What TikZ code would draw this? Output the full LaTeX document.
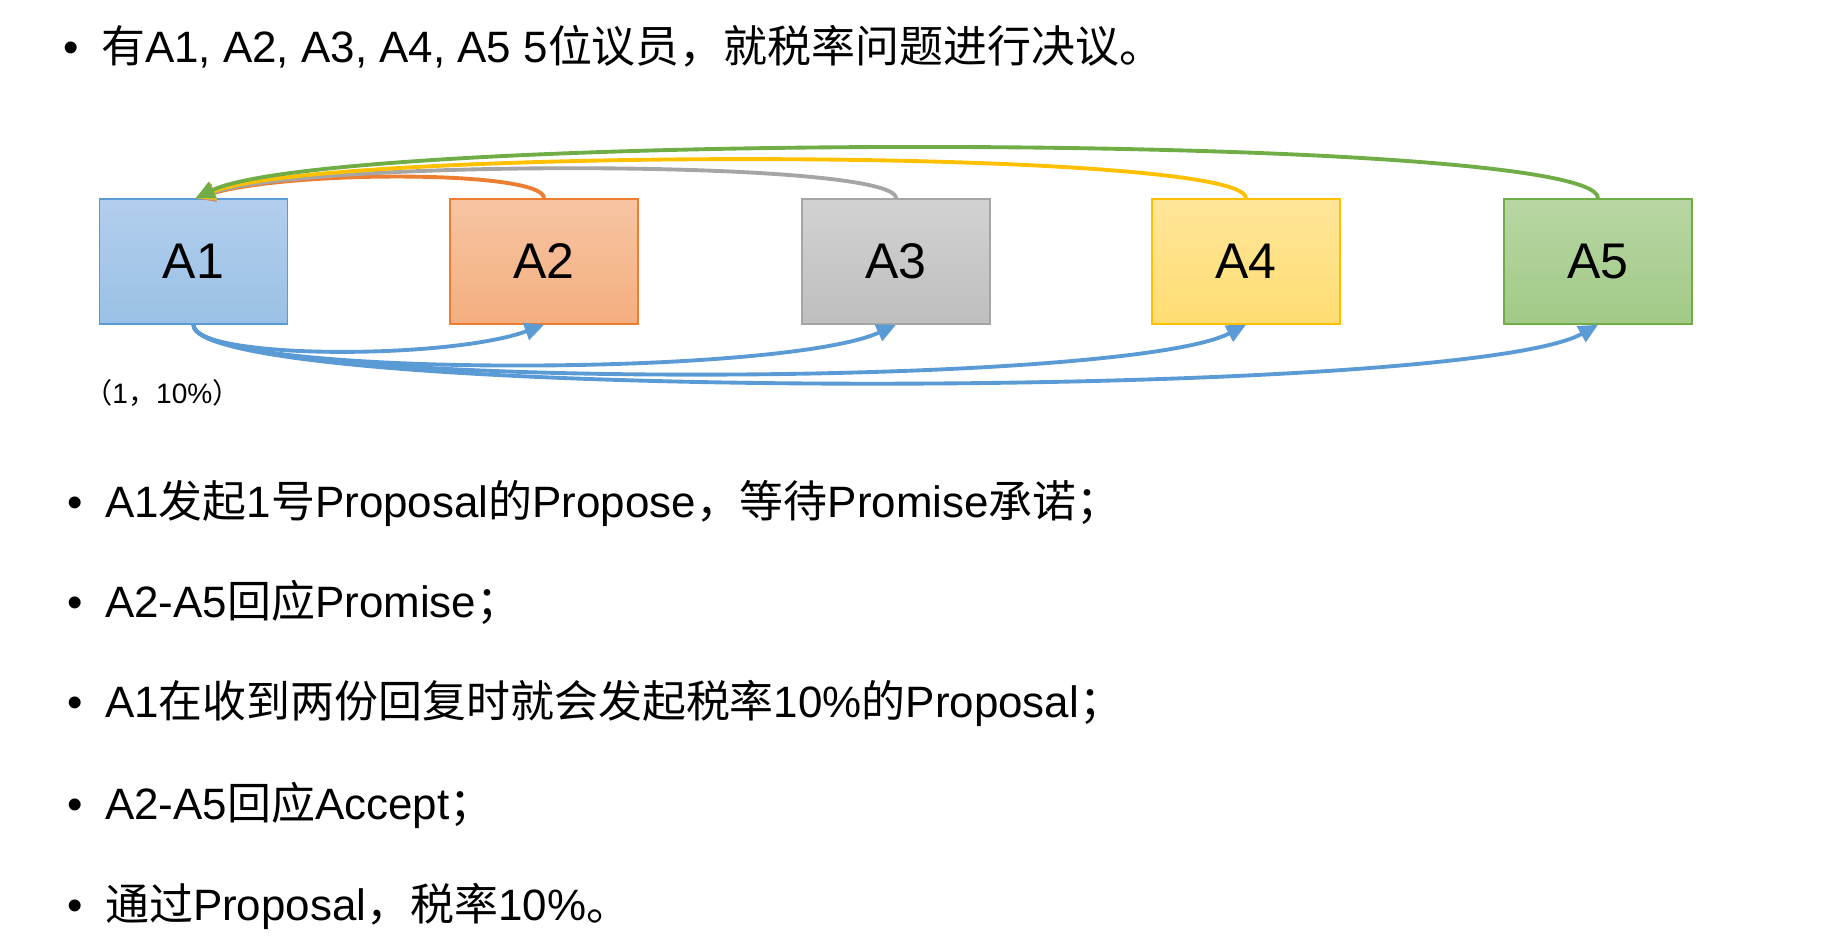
\documentclass[tikz,border=0pt]{standalone}
\usepackage{fontspec}
\setmainfont{Liberation Sans}
\newfontfamily\zhfont{Noto Sans CJK SC}
\newcommand{\zh}[1]{{\zhfont #1}}
\usetikzlibrary{arrows.meta}

\definecolor{lblue}{HTML}{5B9BD5}
\definecolor{lorange}{HTML}{ED7D31}
\definecolor{lgray}{HTML}{A5A5A5}
\definecolor{lyellow}{HTML}{FFC000}
\definecolor{lgreen}{HTML}{70AD47}

\begin{document}
\begin{tikzpicture}[x=0.02cm, y=-0.02cm,
      agent/.style={draw, line width=0.9pt, inner sep=0pt,
          minimum width=3.76cm, minimum height=2.5cm,
          font=\fontsize{28.5}{30}\selectfont},
      item/.style={anchor=base west, inner sep=0pt,
          font=\fontsize{25}{30}\selectfont},
      msg/.style={-{Triangle[length=11pt, width=10pt]}, line width=2.2pt},
    ]
    \useasboundingbox (0,0) rectangle (1839,941);

    %% --- Title line ---
    \node[item] (title) at (63,62)
    {•\hspace{12.8pt}\zh{有}A1, A2, A3, A4, A5 5\zh{位议员，就税率问题进行决议。}};

    %% --- Acceptors ---
    \node[agent, draw=lblue, top color=blue!6!lblue!45, bottom color=lblue!62] (a1) at (193.5,261.5) {A1};
    \node[agent, draw=lorange, top color=lorange!45, bottom color=lorange!62] (a2) at (544,261.5) {A2};
    \node[agent, draw=lgray, top color=lgray!50, bottom color=lgray!72] (a3) at (896,261.5) {A3};
    \node[agent, draw=lyellow, top color=lyellow!40, bottom color=lyellow!55] (a4) at (1246,261.5) {A4};
    \node[agent, draw=lgreen, top color=lgreen!50, bottom color=lgreen!65] (a5) at (1598,261.5) {A5};

    \coordinate (a1in) at ([xshift=0.04cm]a1.north);

    %% --- Prepare from A1 ---
    \draw[msg, lblue] (a1.south) .. controls +(0,35) and +(-95,35) .. (a2.south);
    \draw[msg, lblue] (a1.south) .. controls +(0,53) and +(-116,53) .. (a3.south);
    \draw[msg, lblue] (a1.south) .. controls +(0,65) and +(-126,65) .. (a4.south);
    \draw[msg, lblue] (a1.south) .. controls +(0,77) and +(-138,77) .. (a5.south);

    %% --- Promises back to A1 ---
    \draw[msg, lorange] (a2.north) .. controls +(0,-28) and +(97,-28) .. (a1in);
    \draw[msg, lgray]   (a3.north) .. controls +(0,-39) and +(117,-39) .. (a1in);
    \draw[msg, lyellow] (a4.north) .. controls +(0,-51) and +(130,-51) .. (a1in);
    \draw[msg, lgreen]  (a5.north) .. controls +(0,-67) and +(140,-67) .. (a1in);

    \node[anchor=base west, inner sep=0pt, font=\fontsize{16}{18}\selectfont] (val) at (84,403)
    {\zh{（}1\zh{，}10\%\zh{）}};

    %% --- Steps ---
    \node[item] (s1) at (67,517) {•\hspace{12.8pt}A1\zh{发起}1\zh{号}Proposal\zh{的}Propose\zh{，等待}Promise\zh{承诺；}};
    \node[item] (s2) at (67,617) {•\hspace{12.8pt}A2-A5\zh{回应}Promise\zh{；}};
    \node[item] (s3) at (67,717) {•\hspace{12.8pt}A1\zh{在收到两份回复时就会发起税率}10\%\zh{的}Proposal\zh{；}};
    \node[item] (s4) at (67,819) {•\hspace{12.8pt}A2-A5\zh{回应}Accept\zh{；}};
    \node[item] (s5) at (67,920) {•\hspace{12.8pt}\zh{通过}Proposal\zh{，税率}10\%\zh{。}};

  \end{tikzpicture}
\end{document}
